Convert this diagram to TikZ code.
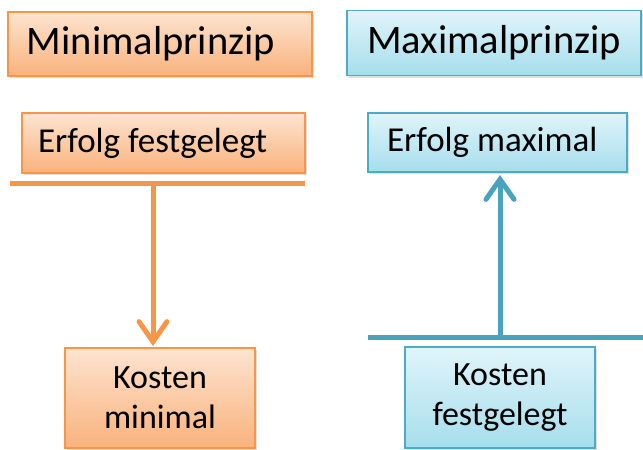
\documentclass[tikz,border=0pt]{standalone}
\usepackage{fontspec}
\setmainfont{Carlito}
\usetikzlibrary{arrows.meta,shadows}
\definecolor{orBorder}{HTML}{F79646}
\definecolor{orTop}{HTML}{FDE4D0}
\definecolor{orBot}{HTML}{F9B27C}
\definecolor{blBorder}{HTML}{4BACC6}
\definecolor{blTop}{HTML}{E0F4FA}
\definecolor{blBot}{HTML}{A6DEEC}
\definecolor{blLine}{HTML}{4AA3BD}
\tikzset{
  box/.style={draw, line width=1.2pt, inner ysep=0pt, text=black,
    drop shadow={shadow xshift=1.5pt, shadow yshift=-2pt, opacity=0.25}},
  obox/.style={box, draw=orBorder, top color=orTop, bottom color=orBot},
  bbox/.style={box, draw=blBorder, top color=blTop, bottom color=blBot},
  oline/.style={draw=orBorder, line width=5pt},
  bline/.style={draw=blLine, line width=5pt},
  tip/.style={-{Straight Barb[length=20pt, width=28pt, line cap=round]}},
}
\begin{document}
\begin{tikzpicture}[x=1pt,y=-1pt]
\useasboundingbox (0,0) rectangle (643,450);
% titles
\node[obox, inner xsep=19pt, text width=266pt, align=flush left, minimum height=64pt, font=\fontsize{40.5}{46}\selectfont] (minp) at (160,44) {Minimalprinzip};
\node[bbox, inner xsep=20pt, text width=254pt, align=flush left, minimum height=65pt, font=\fontsize{40.5}{46}\selectfont] (maxp) at (494,43) {Maximalprinzip};
% upper boxes
\node[obox, inner xsep=16pt, text width=251pt, align=flush left, minimum height=60pt, font=\fontsize{35}{40}\selectfont] (ef) at (163.5,143) {Erfolg festgelegt};
\node[bbox, inner xsep=19pt, text width=221pt, align=flush left, minimum height=59pt, font=\fontsize{35}{40}\selectfont] (em) at (497.5,142.5) {Erfolg maximal};
% lower boxes
\node[obox, inner xsep=0pt, align=center, minimum width=190pt, minimum height=100pt, font=\fontsize{34}{40}\selectfont] (km) at (160,398) {\raisebox{-2pt}{Kosten}\\\raisebox{-2pt}{minimal}};
\node[bbox, inner xsep=0pt, align=center, minimum width=190pt, minimum height=101pt, font=\fontsize{34}{40}\selectfont] (kf) at (500,397.5) {\raisebox{-2pt}{Kosten}\\\raisebox{-2pt}{festgelegt}};
% orange connectors
\coordinate (oL) at (10,183);
\coordinate (oR) at (305,183);
\coordinate (oM) at (153,183);
\coordinate (oT) at (153,346);
\draw[oline] (oL) -- (oR);
\draw[oline, tip] (oM) -- (oT);
% blue connectors
\coordinate (bL) at (368,337);
\coordinate (bR) at (643,337);
\coordinate (bM) at (500,337);
\coordinate (bT) at (500,175);
\draw[bline] (bL) -- (bR);
\draw[bline, tip] (bM) -- (bT);
\end{tikzpicture}
\end{document}
